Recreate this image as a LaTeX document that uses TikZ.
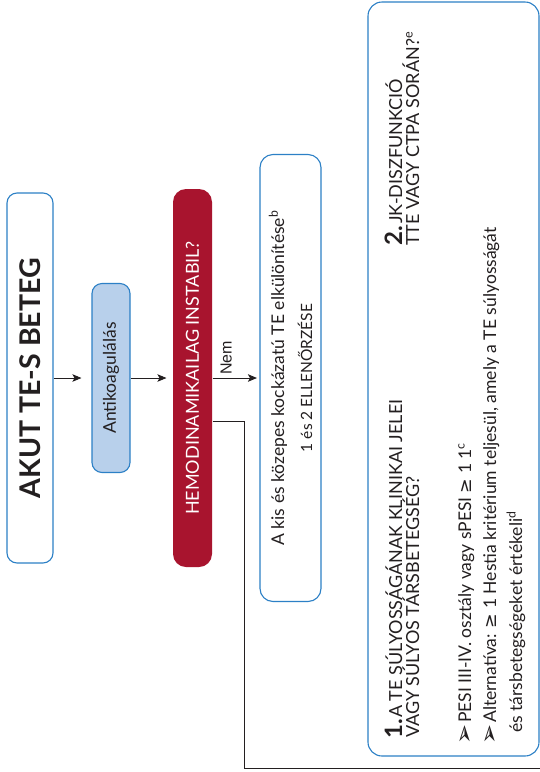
\documentclass[tikz,border=0pt]{standalone}
\usepackage{fontspec}
\setmainfont{Lato}
\newfontfamily\helv{Liberation Sans}
\newfontfamily\dejavu{DejaVu Sans}
\usetikzlibrary{arrows.meta}
\definecolor{bordblue}{RGB}{44,128,198}
\definecolor{fillblue}{RGB}{184,208,235}
\definecolor{darkred}{RGB}{168,20,46}
\definecolor{ink}{RGB}{35,31,32}
\begin{document}
\begin{tikzpicture}[x=1pt,y=-1pt,
  boxbase/.style={rotate=90, rounded corners=10pt, line width=1.1pt, inner sep=0pt, align=center, text=ink},
  whitebox/.style={boxbase, draw=bordblue, fill=white},
  lightbox/.style={boxbase, draw=bordblue, fill=fillblue},
  redbox/.style={boxbase, fill=darkred, text=white, rounded corners=13pt},
  conn/.style={line width=0.9pt, ink},
  arr/.style={conn, -{Stealth[length=9pt,width=7.5pt,inset=2pt]}},
  txt/.style={rotate=90, anchor=base west, inner sep=0pt, text=ink},
  body/.style={font=\fontsize{17.5}{21}\selectfont},
  title/.style={font=\fontsize{18}{20}\selectfont},
  bignum/.style={font=\fontsize{24}{24}\selectfont\bfseries},
  bul/.style={font=\dejavu\fontsize{24}{24}\selectfont},
]
\useasboundingbox (0,0) rectangle (540,772);
\fill[white] (0,0) rectangle (540,772);

% main boxes
\node[whitebox, minimum width=370pt, minimum height=46pt, font=\fontsize{28.5}{30}\selectfont\bfseries] (akut) at (30,378) {AKUT TE-S BETEG};
\node[lightbox, minimum width=189pt, minimum height=38pt, body] (anti) at (111,378) {Antikoagulálás};
\node[redbox, minimum width=378pt, minimum height=39pt, font=\fontsize{18}{20}\selectfont] (hemo) at (192.5,378) {HEMODINAMIKAILAG INSTABIL?};
\node[whitebox, rounded corners=13pt, minimum width=447pt, minimum height=61pt, font=\fontsize{17.5}{28}\selectfont] (kis) at (290.5,378) {A kis és közepes kockázatú TE elkülönítése\textsuperscript{b}\\ {\fontsize{15.5}{28}\selectfont 1 és 2 ELLENŐRZÉSE}};

% large box
\node[draw=bordblue, line width=1.1pt, rounded corners=14pt, minimum width=171pt, minimum height=754pt, inner sep=0pt] (jk) at (453.5,379) {};

% title 2
\node[txt, bignum] (n2) at (402,246) {2.};
\node[txt, title] (t2a) at (402,224) {JK-DISZFUNKCIÓ};
\node[txt, title] (t2b) at (419,246) {TTE VAGY CTPA SORÁN?\textsuperscript{e}};

% title 1
\node[txt, bignum] (n1) at (402,739) {1.};
\node[txt, title] (t1a) at (402,718) {A TE SÚLYOSSÁGÁNAK KLINIKAI JELEI};
\node[txt, title] (t1b) at (419,738) {VAGY SÚLYOS TÁRSBETEGSÉG?};

% bullets
\node[txt, bul] (b1) at (472,745) {➢};
\node[txt, body] (p1) at (471,723) {PESI III-IV. osztály vagy sPESI {\dejavu ≥} 1 1\textsuperscript{c}};
\node[txt, bul] (b2) at (497,745) {➢};
\node[txt, body] (p2) at (496,723) {Alternatíva: {\dejavu ≥} 1 Hestia kritérium teljesül, amely a TE súlyosságát};
\node[txt, body] (p3) at (522,733) {és társbetegségeket értékeli\textsuperscript{d}};

% connectors
\draw[arr, shorten >=10pt] (akut) -- (anti);
\draw[arr, shorten >=6pt] (anti) -- (hemo);
\draw[arr, shorten >=2.5pt] (hemo) -- node[pos=0.29, rotate=90, anchor=west, inner sep=3pt, font=\helv\fontsize{16}{16}\selectfont, text=ink] (nem) {Nem} (kis);

\coordinate (k1) at (244,421);
\coordinate (k2) at (244,768);
\coordinate (k3) at (540,768);
\draw[conn] (hemo.south |- k1) -- (k1) -- (k2) -- (k3);
\end{tikzpicture}
\end{document}
